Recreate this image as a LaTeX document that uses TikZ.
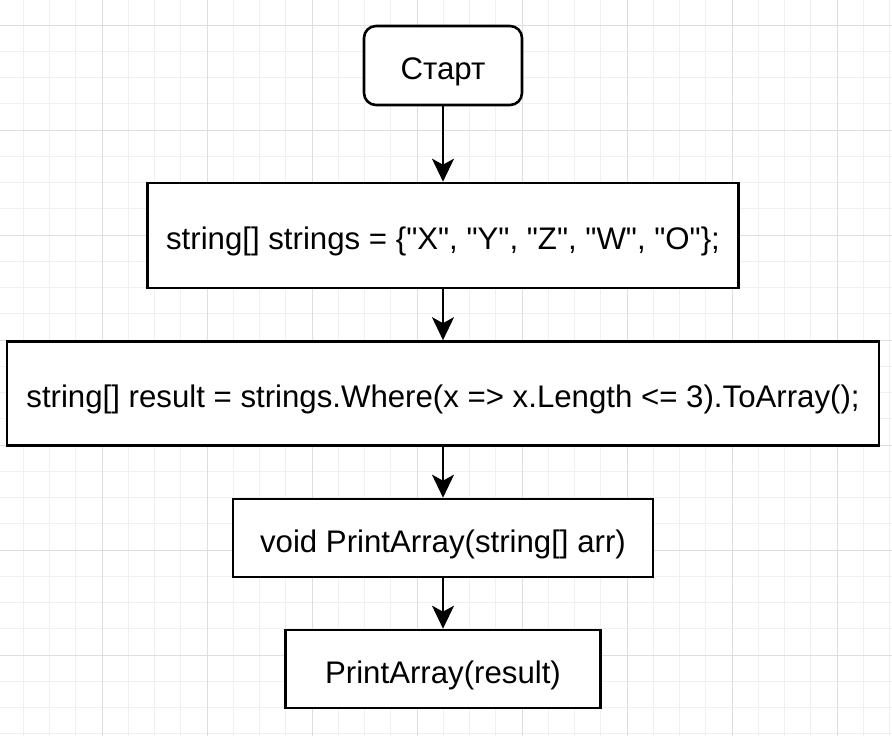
\documentclass[tikz,border=0pt]{standalone}
\usepackage{fontspec}
\setmainfont{Liberation Sans}[Ligatures=TeXOff]
\usetikzlibrary{arrows.meta}
\begin{document}
\begin{tikzpicture}[x=1pt,y=-1pt,
  box/.style={draw=black,line width=2.6pt,fill=white,inner sep=0pt,text height=29pt,text depth=1pt,font=\fontsize{31.2}{36}\selectfont},
  conn/.style={line width=2.4pt,-{Stealth[length=23pt,width=22pt,inset=6pt]}}]
\useasboundingbox (0,0) rectangle (892,736);
\fill[white] (0,0) rectangle (892,736);
\foreach \i in {0,...,34} {
  \draw[color=black!6,line width=1pt] ({23.25+26.25*\i},0) -- ({23.25+26.25*\i},736);
}
\foreach \i in {0,...,28} {
  \draw[color=black!6,line width=1pt] (0,{25+26.25*\i}) -- (892,{25+26.25*\i});
}
\foreach \i in {0,...,8} {
  \draw[color=black!13,line width=1pt] ({102+105*\i},0) -- ({102+105*\i},736);
}
\foreach \i in {0,...,7} {
  \draw[color=black!13,line width=1pt] (0,{25+105*\i}) -- (892,{25+105*\i});
}
\node[box,rounded corners=12pt,minimum width=158pt,minimum height=79pt] (start) at (443,65.5) {Старт};
\node[box,minimum width=591pt,minimum height=105pt] (s1) at (443,235.5) {string[] strings = \{"X", "Y", "Z", "W", "O"\};};
\node[box,minimum width=872pt,minimum height=104pt] (s2) at (443,393.5) {string[] result = strings.Where(x => x.Length <= 3).ToArray();};
\node[box,minimum width=420pt,minimum height=78pt] (s3) at (443,538) {void PrintArray(string[] arr)};
\node[box,minimum width=315pt,minimum height=78pt] (s4) at (443,669) {PrintArray(result)};
\draw[conn] (start) -- (s1);
\draw[conn] (s1) -- (s2);
\draw[conn] (s2) -- (s3);
\draw[conn] (s3) -- (s4);
\end{tikzpicture}
\end{document}
